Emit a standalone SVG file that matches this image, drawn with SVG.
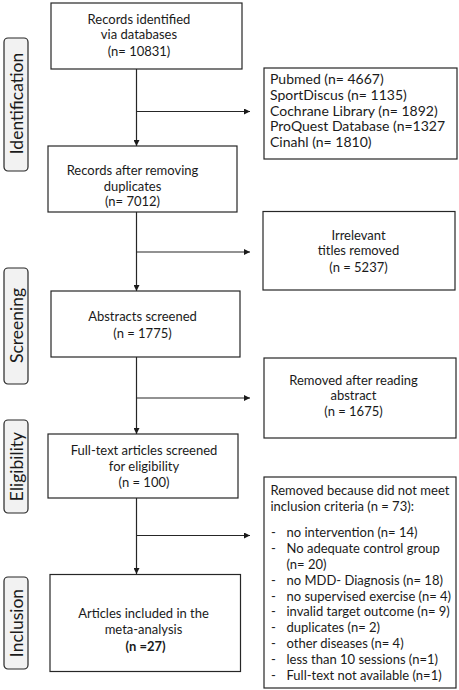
<svg xmlns="http://www.w3.org/2000/svg" width="459" height="690" viewBox="0 0 459 690">
<style>
.box{fill:#fff;stroke:#262626;stroke-width:1.2}
.lab{fill:#f2f2f2;stroke:#262626;stroke-width:1.2}
.t{font-family:Lato,"Liberation Sans",sans-serif;font-size:13px;fill:#1a1a1a}
.db{font-size:14px}
.c{text-anchor:middle}
.side{font-family:Lato,"Liberation Sans",sans-serif;font-size:17.5px;fill:#1a1a1a;text-anchor:middle}
.ln{fill:none;stroke:#262626;stroke-width:1.2}
</style>
<defs>
<marker id="ah" viewBox="0 0 10 10" refX="10" refY="5" markerWidth="6" markerHeight="6" orient="auto" markerUnits="userSpaceOnUse">
<path d="M0,0 L10,5 L0,10 z" fill="#1a1a1a"/>
</marker>
</defs>

<g id="label-identification">
<rect class="lab" x="4" y="38" width="24" height="133" rx="4"/>
<text class="side" transform="translate(23,103.5) rotate(-90)">Identification</text>
</g>
<g id="label-screening">
<rect class="lab" x="4" y="268" width="24" height="116" rx="4"/>
<text class="side" transform="translate(23,325.5) rotate(-90)">Screening</text>
</g>
<g id="label-eligibility">
<rect class="lab" x="4" y="420" width="24" height="93" rx="4"/>
<text class="side" transform="translate(23,466.5) rotate(-90)">Eligibility</text>
</g>
<g id="label-inclusion">
<rect class="lab" x="4" y="577" width="24" height="92" rx="4"/>
<text class="side" transform="translate(23,623) rotate(-90)">Inclusion</text>
</g>

<g id="connectors">
<line class="ln" x1="136.5" y1="69" x2="136.5" y2="146" marker-end="url(#ah)"/>
<line class="ln" x1="136.5" y1="111.5" x2="250" y2="111.5" marker-end="url(#ah)"/>
<line class="ln" x1="136.5" y1="212" x2="136.5" y2="291" marker-end="url(#ah)"/>
<line class="ln" x1="136.5" y1="252" x2="250" y2="252" marker-end="url(#ah)"/>
<line class="ln" x1="136.5" y1="357" x2="136.5" y2="434" marker-end="url(#ah)"/>
<line class="ln" x1="136.5" y1="398" x2="250" y2="398" marker-end="url(#ah)"/>
<line class="ln" x1="136.5" y1="498" x2="136.5" y2="574" marker-end="url(#ah)"/>
<line class="ln" x1="136.5" y1="535.5" x2="250" y2="535.5" marker-end="url(#ah)"/>
</g>

<g id="records-identified">
<rect class="box" x="51" y="3" width="191" height="66"/>
<text class="t c" x="139" y="23.5">Records identified</text>
<text class="t c" x="139" y="39">via databases</text>
<text class="t c" x="139" y="56">(n= 10831)</text>
</g>
<g id="databases">
<rect class="box" x="264" y="68" width="193" height="91"/>
<text class="t db" x="270" y="84">Pubmed (n= 4667)</text>
<text class="t db" x="270" y="99.5">SportDiscus (n= 1135)</text>
<text class="t db" x="270" y="115.5">Cochrane Library (n= 1892)</text>
<text class="t db" x="270" y="131">ProQuest Database (n=1327</text>
<text class="t db" x="270" y="147">Cinahl (n= 1810)</text>
</g>
<g id="records-after-duplicates">
<rect class="box" x="48" y="146" width="189" height="66"/>
<text class="t c" x="132.5" y="174.5">Records after removing</text>
<text class="t c" x="132.5" y="190.5">duplicates</text>
<text class="t c" x="132.5" y="206">(n= 7012)</text>
</g>
<g id="irrelevant">
<rect class="box" x="263" y="211.5" width="192" height="78.5"/>
<text class="t c" x="358.5" y="239.5">Irrelevant</text>
<text class="t c" x="358.5" y="255">titles removed</text>
<text class="t c" x="358.5" y="271.5">(n = 5237)</text>
</g>
<g id="abstracts-screened">
<rect class="box" x="51" y="291" width="189" height="66"/>
<text class="t c" x="142.5" y="321">Abstracts screened</text>
<text class="t c" x="142.5" y="337.5">(n = 1775)</text>
</g>
<g id="removed-abstract">
<rect class="box" x="264" y="358" width="192" height="80"/>
<text class="t c" x="353.5" y="384.5">Removed after reading</text>
<text class="t c" x="353.5" y="400">abstract</text>
<text class="t c" x="353.5" y="416">(n = 1675)</text>
</g>
<g id="full-text">
<rect class="box" x="48" y="434" width="190" height="64"/>
<text class="t c" x="144" y="455">Full-text articles screened</text>
<text class="t c" x="144" y="471">for eligibility</text>
<text class="t c" x="144" y="486.5">(n = 100)</text>
</g>
<g id="removed-criteria">
<rect class="box" x="264" y="477" width="192" height="211"/>
<text class="t" x="270.5" y="494.5">Removed because did not meet</text>
<text class="t" x="270.5" y="510.5">inclusion criteria (n = 73):</text>
<g class="t">
<text x="271" y="537">-</text><text x="286.5" y="537">no intervention (n= 14)</text>
<text x="271" y="552.5">-</text><text x="286.5" y="552.5">No adequate  control group</text>
<text x="286.5" y="568.5">(n= 20)</text>
<text x="271" y="584.5">-</text><text x="286.5" y="584.5">no MDD- Diagnosis (n= 18)</text>
<text x="271" y="600.5">-</text><text x="286.5" y="600.5">no supervised exercise (n= 4)</text>
<text x="271" y="616">-</text><text x="286.5" y="616">invalid target outcome (n= 9)</text>
<text x="271" y="632">-</text><text x="286.5" y="632">duplicates (n= 2)</text>
<text x="271" y="647.5">-</text><text x="286.5" y="647.5">other diseases (n= 4)</text>
<text x="271" y="663.5">-</text><text x="286.5" y="663.5">less than 10 sessions (n=1)</text>
<text x="271" y="679.5">-</text><text x="286.5" y="679.5">Full-text not available (n=1)</text>
</g>
</g>
<g id="included">
<rect class="box" x="50" y="574.5" width="190.5" height="97"/>
<text class="t c" x="143.5" y="617.5">Articles included in the</text>
<text class="t c" x="143.5" y="633.5">meta-analysis</text>
<text class="t c" x="145.5" y="651" font-weight="bold">(n =27)</text>
</g>
</svg>
